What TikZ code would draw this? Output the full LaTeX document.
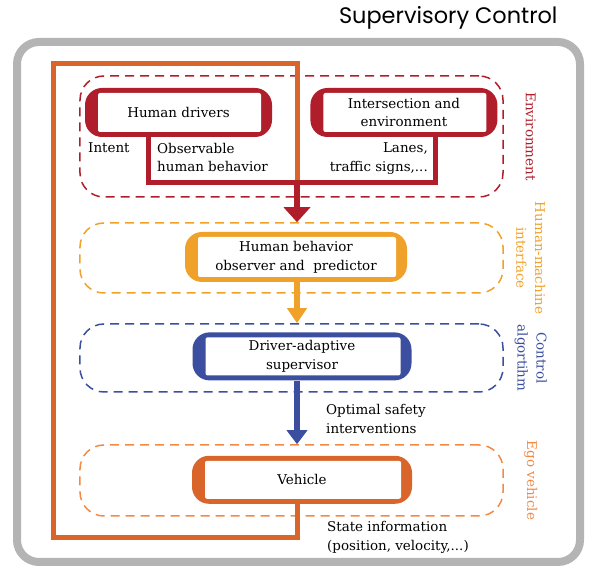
\documentclass[tikz,border=0pt]{standalone}
\usepackage{fontspec}
\setmainfont{DejaVu Serif}
\newfontfamily\titlefont{Poppins}
\usepackage{xcolor}
\usepackage{tikz}
\usetikzlibrary{arrows.meta, positioning}

\definecolor{envred}{HTML}{B01E2B}
\definecolor{hmiamber}{HTML}{F0A12A}
\definecolor{ctrlblue}{HTML}{3B4E9F}
\definecolor{egoorange}{HTML}{D9652A}
\definecolor{egodash}{HTML}{F28A45}
\definecolor{framegray}{HTML}{B4B4B4}

\begin{document}
\begin{tikzpicture}[
  x=1bp, y=1bp,
  every node/.style={font=\fontsize{13.5}{19}\selectfont},
  block/.style={fill=#1, rounded corners=17bp, minimum height=49bp, align=center,
    path picture={\fill[white, rounded corners=2bp]
      ([shift={(13bp,5bp)}]path picture bounding box.south west) rectangle
      ([shift={(-11bp,-5bp)}]path picture bounding box.north east);}},
  group/.style={draw=#1, dash pattern=on 9bp off 6bp, line width=1.5bp,
    rounded corners=24bp, minimum width=423bp},
  side/.style={text=#1, rotate=-90, align=center, inner sep=0},
  lbl/.style={inner sep=0},
  wire/.style={draw=#1, line width=5bp},
  arrow/.style={draw=#1, line width=5.5bp, -{Triangle[width=20bp,length=14bp]}}
]
\useasboundingbox (0,0) rectangle (589,570);

% outer frame and title
\draw[framegray, line width=8bp, rounded corners=22bp] (17,8) rectangle (580,528);
\node[anchor=base east, font=\titlefont\fontsize{22.5}{26}\selectfont] (title) at (561,546) {Supervisory Control};

% dashed layers
\node[group=envred, minimum height=121bp] (env) at (291.5,433.5) {};
\node[group=hmiamber, minimum height=70bp] (hmibox) at (291.5,312) {};
\node[group=ctrlblue, minimum height=68bp] (ctrlbox) at (291.5,212) {};
\node[group=egodash, minimum height=71bp] (egobox) at (291.5,89.5) {};

\node[side=envred] (envlbl) at ([xshift=27bp]env.east) {Environment};
\node[side=hmiamber] (hmilbl) at ([xshift=27bp]hmibox.east) {Human-machine\\interface};
\node[side=ctrlblue] (ctrllbl) at ([xshift=27bp]ctrlbox.east) {Control\\algortihm};
\node[side=egodash] (egolbl) at ([xshift=27bp]egobox.east) {Ego vehicle};

% blocks
\node[block=envred, minimum width=187bp] (hd) at (178.5,457.5) {Human drivers};
\node[block=envred, minimum width=187bp, right=38bp of hd] (inter) {Intersection and\\environment};
\node[block=hmiamber, minimum width=222bp, minimum height=50bp] (hmi) at (296,313) {Human behavior\\observer and\ \ predictor};
\node[block=ctrlblue, minimum width=219bp, minimum height=48bp, below=50bp of hmi, xshift=6bp] (sup) {Driver-adaptive\\supervisor};
\node[block=egoorange, minimum width=220bp, minimum height=48bp, below=75bp of sup] (veh) {Vehicle};

\coordinate (jn) at (297,387);
\coordinate (lb) at (53,32);
\coordinate (lt) at (53,506);

% feedback of the vehicle state
\draw[wire=egoorange] (veh.south -| jn) |- (lb) -- (lt) -| (jn);

% signals out of the environment
\draw[wire=envred] ([xshift=-30bp]hd.south) |- (jn) -| ([xshift=32bp]inter.south);
\draw[arrow=envred, -{Triangle[width=26bp,length=15bp]}] (jn) -- (jn |- hmibox.north);
\draw[arrow=hmiamber, -{Triangle[width=19bp,length=15bp]}] (hmi.south -| jn) -- (jn |- ctrlbox.north);
\draw[arrow=ctrlblue] (sup.south -| jn) -- (jn |- egobox.north);

% labels
\node[lbl, anchor=west] (intent) at (88,422) {Intent};
\node[lbl, anchor=west, align=left] (obs) at (157,412.5) {Observable\\human behavior};
\node[lbl, anchor=east, align=right] (lanes) at (428,411) {Lanes,\\traffic signs,...};
\node[lbl, anchor=west, align=left] (opt) at (326,151) {Optimal safety\\interventions};
\node[lbl, anchor=west, align=left] (state) at (327,32.5) {State information\\(position, velocity,...)};
\end{tikzpicture}
\end{document}
